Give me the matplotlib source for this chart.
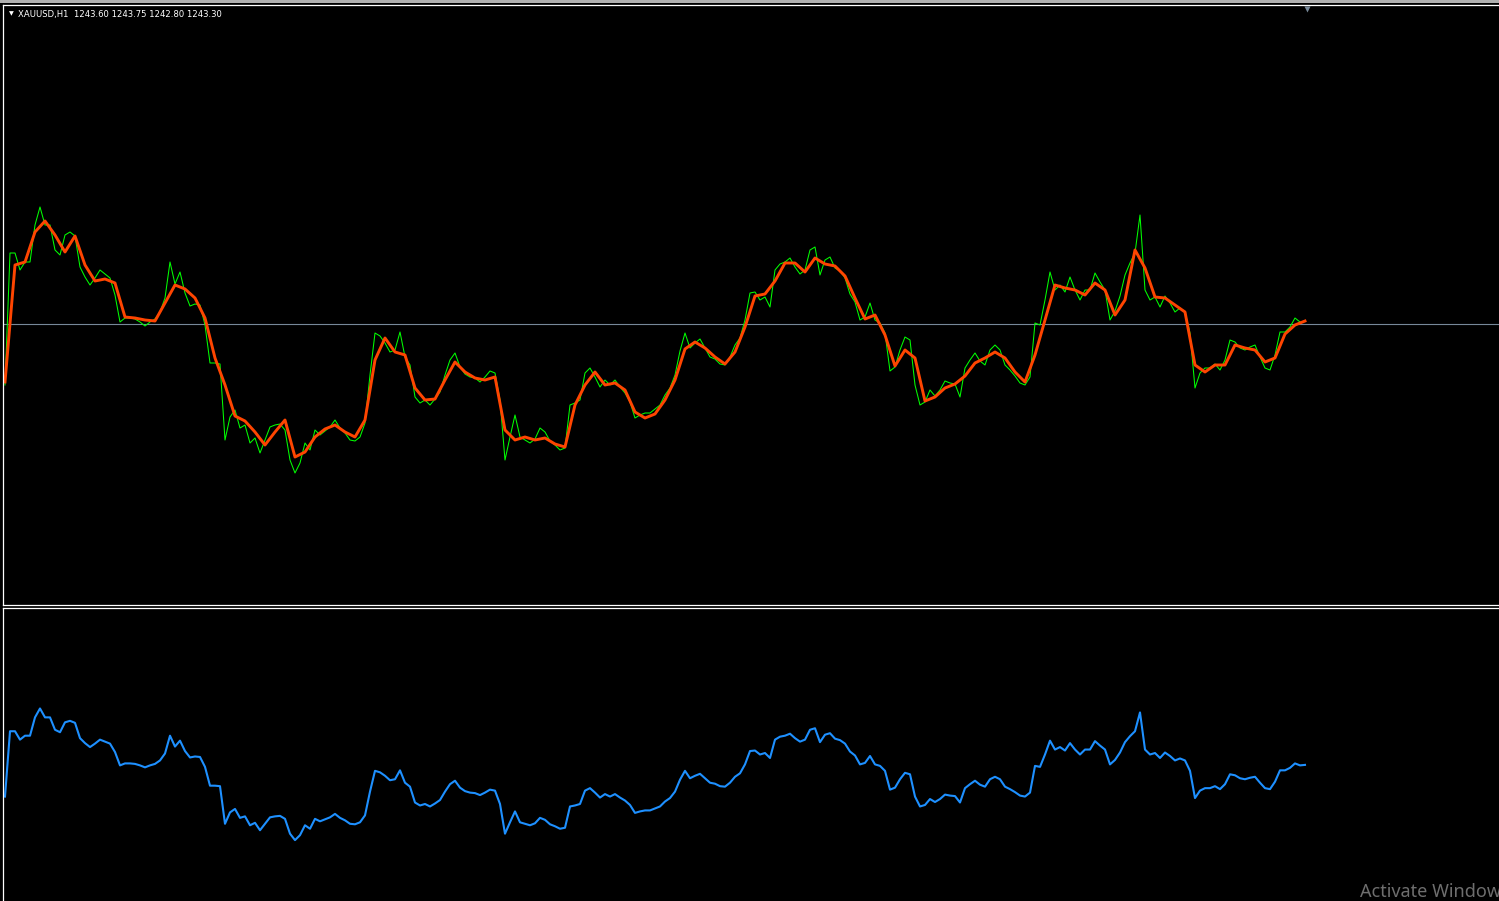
import numpy as np
import matplotlib
matplotlib.use('Agg')
import matplotlib.pyplot as plt
import matplotlib.transforms as mtransforms

# ── Chart data: XAUUSD H1 closes (one value per plotted step) ───────────────
SYMBOL = 'XAUUSD,H1'
OHLC = ['1243.60', '1243.75', '1242.80', '1243.30']
BID = 1243.30

close = [
    1237.2, 1250.4, 1250.4, 1248.7, 1249.5, 1249.5, 1253.2, 1255.0, 1253.2, 1253.2,
    1250.7, 1250.2, 1252.2, 1252.5, 1252.1, 1249.0, 1248.0, 1247.2, 1247.9, 1248.7,
    1248.3, 1247.9, 1246.2, 1243.5, 1243.9, 1243.9, 1243.8, 1243.5, 1243.1, 1243.5,
    1243.8, 1244.5, 1245.9, 1249.5, 1247.3, 1248.5, 1246.4, 1245.1, 1245.3, 1245.2,
    1243.2, 1239.4, 1239.4, 1239.3, 1231.7, 1234.0, 1234.7, 1232.9, 1233.2, 1231.4,
    1231.9, 1230.4, 1231.7, 1233.0, 1233.2, 1233.3, 1232.7, 1229.7, 1228.4, 1229.4,
    1231.4, 1230.7, 1232.7, 1232.2, 1232.6, 1233.0, 1233.7, 1232.9, 1232.4, 1231.7,
    1231.6, 1232.0, 1233.4, 1238.2, 1242.4, 1242.1, 1241.4, 1240.5, 1240.7, 1242.5,
    1240.0, 1239.2, 1236.0, 1235.4, 1235.7, 1235.2, 1235.8, 1236.5, 1238.2, 1239.7,
    1240.4, 1239.0, 1238.3, 1238.0, 1237.9, 1237.5, 1238.0, 1238.6, 1238.4, 1235.7,
    1229.7, 1232.0, 1234.2, 1232.0, 1231.7, 1231.4, 1231.8, 1232.9, 1232.5, 1231.6,
    1231.2, 1230.7, 1230.9, 1235.2, 1235.4, 1235.7, 1238.4, 1238.9, 1238.0, 1237.0,
    1237.7, 1237.2, 1237.7, 1237.0, 1236.4, 1235.5, 1233.9, 1234.2, 1234.4, 1234.4,
    1234.8, 1235.2, 1236.2, 1236.9, 1238.2, 1240.6, 1242.4, 1240.9, 1241.4, 1241.8,
    1240.9, 1240.0, 1239.8, 1239.3, 1239.2, 1240.0, 1241.2, 1241.9, 1243.7, 1246.4,
    1246.5, 1245.7, 1246.0, 1245.0, 1248.7, 1249.3, 1249.5, 1249.9, 1249.0, 1248.3,
    1248.7, 1250.7, 1251.0, 1248.2, 1249.7, 1250.0, 1248.9, 1248.6, 1247.9, 1246.3,
    1245.5, 1243.7, 1244.0, 1245.4, 1243.7, 1243.4, 1242.4, 1238.6, 1239.0, 1240.7,
    1242.0, 1241.7, 1237.2, 1235.2, 1235.5, 1236.7, 1236.1, 1236.7, 1237.6, 1237.4,
    1237.3, 1236.0, 1238.9, 1239.7, 1240.4, 1239.6, 1239.2, 1240.7, 1241.2, 1240.7,
    1239.2, 1238.7, 1238.1, 1237.4, 1237.2, 1238.0, 1243.4, 1243.2, 1245.7, 1248.5,
    1246.7, 1247.2, 1246.5, 1248.0, 1246.7, 1245.7, 1246.7, 1246.7, 1248.4, 1247.5,
    1246.7, 1243.7, 1244.6, 1246.1, 1248.2, 1249.4, 1250.4, 1254.2, 1246.7, 1245.7,
    1246.0, 1245.0, 1246.1, 1245.4, 1244.5, 1244.9, 1244.5, 1242.4, 1236.9, 1238.4,
    1238.9, 1238.9, 1239.3, 1238.7, 1239.7, 1241.7, 1241.5, 1240.9, 1240.7, 1241.0,
    1241.2, 1240.0, 1238.9, 1238.7, 1240.2, 1242.5, 1242.5, 1243.0, 1243.9, 1243.5,
    1243.6,
]

# moving average, sampled every second step of the close series
ma = [
    1237.5, 1249.2, 1249.5, 1252.5, 1253.6, 1252.2, 1250.5, 1252.1, 1249.2, 1247.6,
    1247.8, 1247.4, 1244.0, 1243.9, 1243.7, 1243.6, 1245.4, 1247.2, 1246.8, 1245.9,
    1243.9, 1239.9, 1237.2, 1234.1, 1233.6, 1232.5, 1231.2, 1232.5, 1233.7, 1230.0,
    1230.5, 1232.0, 1232.8, 1233.2, 1232.5, 1232.0, 1233.7, 1239.7, 1241.9, 1240.5,
    1240.2, 1236.9, 1235.7, 1235.8, 1237.7, 1239.5, 1238.5, 1237.9, 1237.7, 1238.0,
    1232.7, 1231.7, 1232.0, 1231.7, 1231.9, 1231.3, 1231.0, 1235.2, 1237.2, 1238.5,
    1237.2, 1237.4, 1236.7, 1234.5, 1233.9, 1234.3, 1235.7, 1237.7, 1240.8, 1241.5,
    1240.9, 1240.0, 1239.3, 1240.5, 1243.0, 1246.1, 1246.3, 1247.6, 1249.4, 1249.4,
    1248.5, 1249.9, 1249.3, 1249.1, 1248.1, 1245.9, 1243.8, 1244.2, 1242.2, 1239.1,
    1240.7, 1239.9, 1235.6, 1236.0, 1236.9, 1237.3, 1238.1, 1239.4, 1239.9, 1240.5,
    1239.9, 1238.5, 1237.5, 1240.2, 1243.7, 1247.2, 1246.9, 1246.7, 1246.2, 1247.4,
    1246.7, 1244.2, 1245.7, 1250.7, 1248.9, 1246.0, 1245.9, 1245.2, 1244.5, 1239.2,
    1238.5, 1239.2, 1239.2, 1241.2, 1240.9, 1240.7, 1239.5, 1239.9, 1242.3, 1243.2,
    1243.6,
]

close = np.array(close)
ma = np.array(ma)
x_close = np.arange(len(close))
x_ma = np.arange(len(ma)) * 2

W, H = 1499, 901
fig = plt.figure(figsize=(W / 100, H / 100), dpi=100, facecolor='black')

# window chrome strip at the very top
fig.patches.append(plt.Rectangle((0, 1 - 3 / H), 1, 3 / H, transform=fig.transFigure,
                                 facecolor='#b0b0b0', edgecolor='none'))

# ── main price window ───────────────────────────────────────────────────────
ax = fig.add_axes([2.5 / W, 1 - 605 / H, 1 - 2.5 / W, 600 / H])
ax.set_facecolor('black')
ax.set_xlim(-0.5, (W - 5) / 5)
ax.set_ylim(1215.2, 1275.2)
ax.axhline(BID, color='#778899', lw=0.8)
ax.plot(x_close, close, color='#00ff00', lw=0.75)
ax.plot(x_ma, ma, color='#ff4500', lw=2.1, solid_joinstyle='round')

# chart-shift marker
trans = mtransforms.blended_transform_factory(ax.transData, ax.transAxes)
ax.plot([len(close) - 0.6], [0.993], marker='v', ms=5, color='#778899',
        mec='none', transform=trans, clip_on=False)

ax.text(6 / (W - 2.5), 1 - 9 / 600, '\u25bc', color='white', fontsize=4.5,
        transform=ax.transAxes, va='center', ha='left')
ax.text(15.5 / (W - 2.5), 1 - 9 / 600, f'{SYMBOL}  ' + ' '.join(OHLC),
        color='white', fontsize=6.1, transform=ax.transAxes, va='center', ha='left')

# ── lower indicator window ──────────────────────────────────────────────────
ax2 = fig.add_axes([2.5 / W, 0, 1 - 2.5 / W, (H - 607.5) / H])
ax2.set_facecolor('black')
ax2.set_xlim(-0.5, (W - 5) / 5)
ax2.set_ylim(1216.1, 1275.4)
ax2.plot(x_close, close, color='#1e90ff', lw=1.5)

for a in (ax, ax2):
    a.set_xticks([])
    a.set_yticks([])
    for side in ('left', 'top', 'bottom'):
        a.spines[side].set_color('white')
        a.spines[side].set_linewidth(0.9)
    a.spines['right'].set_visible(False)
ax2.spines['bottom'].set_visible(False)

# watermark, clipped by the right edge as in the screenshot
fig.text(1360 / W, 4 / H, 'Activate Windows', color='#6e6e6e', fontsize=13,
         family=['Noto Sans', 'DejaVu Sans'], ha='left', va='baseline')

fig.savefig('out.png', dpi=100, facecolor='black')
